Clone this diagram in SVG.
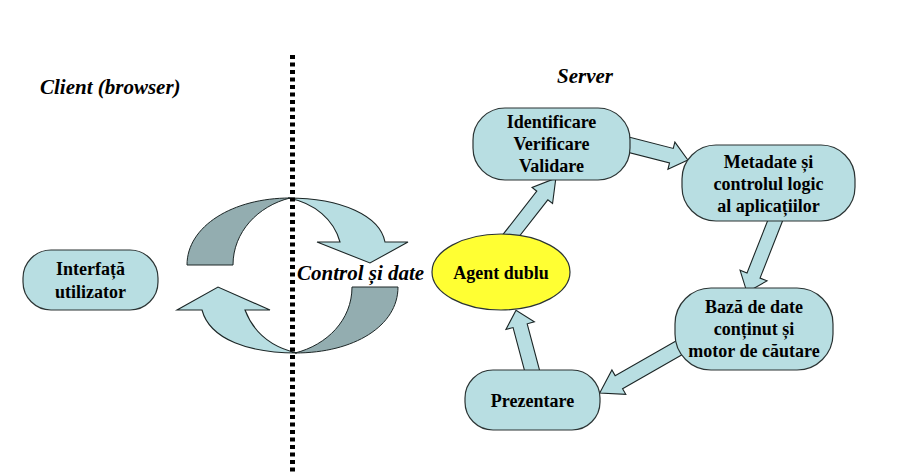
<svg xmlns="http://www.w3.org/2000/svg" width="917" height="475" viewBox="0 0 917 475">
<style>
.node{fill:#b8dee2;stroke:#2a3333;stroke-width:1.2}
.agent{fill:#ffff33;stroke:#2a3333;stroke-width:1.2}
.blk{fill:#b8dee2;stroke:#1c2626;stroke-width:1.1;stroke-linejoin:miter}
.dark{fill:#93adb0;stroke:#1c2626;stroke-width:1}
.lt{font-family:"Liberation Serif","Times New Roman",serif;font-weight:bold;font-size:18px;fill:#000;text-anchor:middle}
.it{font-family:"Liberation Serif","Times New Roman",serif;font-weight:bold;font-style:italic;font-size:21px;fill:#000}
.sep{stroke:#000;stroke-width:5;stroke-dasharray:4 3.5}
</style>
<rect width="917" height="475" fill="#fff"/>

<g id="connectors">
  <polygon class="blk" transform="translate(506,242) rotate(-52)" points="0,-7 59,-7 59,-13 81,0 59,13 59,7 0,7"/>
  <polygon class="blk" transform="translate(622,143) rotate(14.4)" points="0,-7.5 51,-7.5 51,-14 68,0 51,14 51,7.5 0,7.5"/>
  <polygon class="blk" transform="translate(777,216) rotate(111.5)" points="0,-7 64,-7 64,-14.5 82,0 64,14.5 64,7 0,7"/>
  <polygon class="blk" transform="translate(684,345) rotate(150.3)" points="0,-7.5 75,-7.5 75,-14 97,0 75,14 75,7.5 0,7.5"/>
  <polygon class="blk" transform="translate(533,374) rotate(-104.9)" points="0,-7.3 50,-7.3 50,-14.7 66,0 50,14.7 50,7.3 0,7.3"/>
</g>

<g id="exchange">
  <path class="dark" d="M187,265 C187,226 233,198 290,198 C258,206 233,232 233,265 Z"/>
  <path class="blk" d="M288,198 C342,198 380,216 385,242 L408,242 L370,263 L317,242 L340,242 C334,220 315,203 288,198 Z"/>
  <path class="dark" d="M352,287 L398,287 C398,326 354,353 295,353 C327,345 352,320 352,287 Z"/>
  <path class="blk" d="M297,353 C250,353 210,340 202,310 L177,310 L218,287 L270,310 L245,310 C255,336 275,348 297,353 Z"/>
  <text class="it" x="297" y="280">Control și date</text>
</g>

<line id="separator" class="sep" x1="292.5" y1="55" x2="292.5" y2="475"/>

<g id="label-client"><text class="it" x="40" y="94">Client (browser)</text></g>
<g id="label-server"><text class="it" x="557" y="83">Server</text></g>

<g id="interfata">
  <rect class="node" x="23" y="250" width="135" height="60" rx="28"/>
  <text class="lt" x="90.5" y="275">Interfață</text>
  <text class="lt" x="90.5" y="298">utilizator</text>
</g>
<g id="identificare">
  <rect class="node" x="473" y="108" width="157" height="72" rx="32"/>
  <text class="lt" x="551.5" y="128">Identificare</text>
  <text class="lt" x="551.5" y="150">Verificare</text>
  <text class="lt" x="551.5" y="172">Validare</text>
</g>
<g id="metadate">
  <rect class="node" x="682" y="145" width="173" height="76" rx="34"/>
  <text class="lt" x="768.5" y="168">Metadate și</text>
  <text class="lt" x="768.5" y="190">controlul logic</text>
  <text class="lt" x="768.5" y="212">al aplicațiilor</text>
</g>
<g id="baza">
  <rect class="node" x="675" y="288" width="158" height="82" rx="36"/>
  <text class="lt" x="754" y="313">Bază de date</text>
  <text class="lt" x="754" y="335">conținut și</text>
  <text class="lt" x="754" y="357">motor de căutare</text>
</g>
<g id="prezentare">
  <rect class="node" x="465" y="370" width="135" height="60" rx="28"/>
  <text class="lt" x="532.5" y="407">Prezentare</text>
</g>
<g id="agent">
  <ellipse class="agent" cx="501" cy="272" rx="69" ry="38"/>
  <text class="lt" x="501" y="279">Agent dublu</text>
</g>
</svg>
